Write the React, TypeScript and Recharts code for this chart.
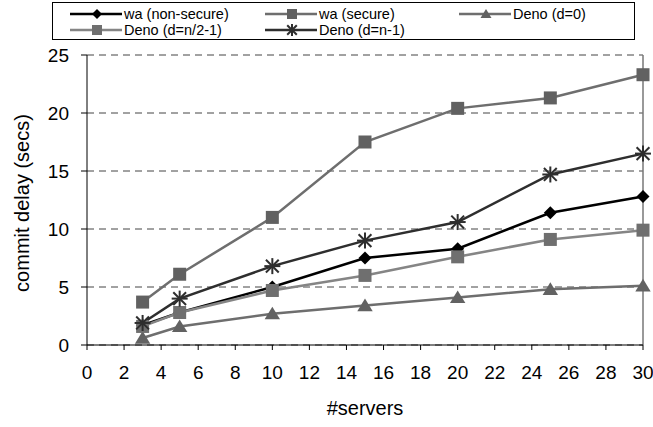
import React from 'react';
import { LineChart, Line, XAxis, YAxis, CartesianGrid, ReferenceLine } from 'recharts';

const servers = [3, 5, 10, 15, 20, 25, 30];
const waNonSecure = [1.7, 2.8, 5.0, 7.5, 8.3, 11.4, 12.8];
const waSecure = [3.7, 6.1, 11.0, 17.5, 20.4, 21.3, 23.3];
const denoD0 = [0.6, 1.6, 2.7, 3.4, 4.1, 4.8, 5.1];
const denoHalf = [1.6, 2.8, 4.7, 6.0, 7.6, 9.1, 9.9];
const denoFull = [1.9, 4.0, 6.8, 9.0, 10.6, 14.7, 16.5];

const xTicks = [0, 2, 4, 6, 8, 10, 12, 14, 16, 18, 20, 22, 24, 26, 28, 30];
const yTicks = [0, 5, 10, 15, 20, 25];

const data = servers.map((n, i) => ({
  n,
  waNonSecure: waNonSecure[i],
  waSecure: waSecure[i],
  denoD0: denoD0[i],
  denoHalf: denoHalf[i],
  denoFull: denoFull[i],
}));

const FONT = '"Liberation Sans", Arial, Helvetica, sans-serif';

type Shape = 'diamond' | 'square' | 'triangle' | 'star';

const series: { key: string; name: string; stroke: string; fill: string; shape: Shape }[] = [
  { key: 'waNonSecure', name: 'wa (non-secure)', stroke: '#000000', fill: '#000000', shape: 'diamond' },
  { key: 'waSecure', name: 'wa (secure)', stroke: '#6e6e6e', fill: '#616161', shape: 'square' },
  { key: 'denoD0', name: 'Deno (d=0)', stroke: '#6e6e6e', fill: '#626262', shape: 'triangle' },
  { key: 'denoHalf', name: 'Deno (d=n/2-1)', stroke: '#858585', fill: '#6f6f6f', shape: 'square' },
  { key: 'denoFull', name: 'Deno (d=n-1)', stroke: '#2e2e2e', fill: '#2e2e2e', shape: 'star' },
];

function marker(shape: Shape, cx: number, cy: number, fill: string, s: number) {
  if (shape === 'diamond') {
    return <polygon points={`${cx},${cy - s} ${cx + s},${cy} ${cx},${cy + s} ${cx - s},${cy}`} fill={fill} />;
  }
  if (shape === 'square') {
    return <rect x={cx - s} y={cy - s} width={2 * s} height={2 * s} fill={fill} />;
  }
  if (shape === 'triangle') {
    return <polygon points={`${cx},${cy - s} ${cx + s * 1.1},${cy + s * 0.8} ${cx - s * 1.1},${cy + s * 0.8}`} fill={fill} />;
  }
  const r = s;
  const d = r * 0.8;
  return (
    <g stroke={fill} strokeWidth={2}>
      <line x1={cx} y1={cy - r} x2={cx} y2={cy + r} />
      <line x1={cx - d} y1={cy - d} x2={cx + d} y2={cy + d} />
      <line x1={cx - d} y1={cy + d} x2={cx + d} y2={cy - d} />
      <line x1={cx - r} y1={cy} x2={cx + r} y2={cy} />
    </g>
  );
}

const legendSpots = [
  { left: 17, top: 3 },
  { left: 212, top: 3 },
  { left: 406, top: 3 },
  { left: 17, top: 19 },
  { left: 212, top: 19 },
];

function LegendBox() {
  return (
    <div
      style={{
        position: 'absolute',
        left: 52,
        top: 2,
        width: 583,
        height: 38,
        border: '1px solid #000',
        boxSizing: 'border-box',
        fontFamily: FONT,
        fontSize: 14.5,
        background: '#fff',
      }}
    >
      {series.map((s, i) => (
        <div
          key={s.key}
          style={{ position: 'absolute', left: legendSpots[i].left, top: legendSpots[i].top, display: 'flex', alignItems: 'center', height: 16 }}
        >
          <svg width={53} height={16} style={{ display: 'block' }}>
            <line x1={0} y1={8} x2={52} y2={8} stroke={s.stroke} strokeWidth={2.5} />
            {marker(s.shape, 27, 8, s.fill, s.shape === 'star' ? 6 : 5)}
          </svg>
          <span style={{ marginLeft: 1, color: '#000', whiteSpace: 'nowrap' }}>{s.name}</span>
        </div>
      ))}
    </div>
  );
}

export default function App() {
  return (
    <div style={{ position: 'absolute', left: 0, top: 0, width: 653, height: 427, background: '#fff' }}>
      <LineChart
        width={653}
        height={427}
        data={data}
        margin={{ top: 55, right: 10, left: 0, bottom: 0 }}
        style={{ fontFamily: FONT }}
      >
        <CartesianGrid vertical={false} stroke="#444" strokeDasharray="7 5" />
        <XAxis
          dataKey="n"
          type="number"
          domain={[0, 30]}
          ticks={xTicks}
          interval={0}
          height={82}
          tickSize={5}
          tickMargin={16}
          stroke="#000"
          tick={{ fill: '#000', fontSize: 19 }}
          label={() => (
            <text x={365} y={415} textAnchor="middle" fontSize={20} fill="#000" fontFamily={FONT}>
              #servers
            </text>
          )}
        />
        <YAxis
          type="number"
          domain={[0, 25]}
          ticks={yTicks}
          interval={0}
          width={87}
          tickSize={6}
          tickMargin={12}
          stroke="#000"
          tick={{ fill: '#000', fontSize: 19 }}
          label={() => (
            <text x={29} y={203} transform="rotate(-90 29 203)" textAnchor="middle" fontSize={20} fill="#000" fontFamily={FONT}>
              commit delay (secs)
            </text>
          )}
        />
        <ReferenceLine x={30} stroke="#777" strokeWidth={1.5} />
        {series.map((s) => (
          <Line
            key={s.key}
            dataKey={s.key}
            name={s.name}
            stroke={s.stroke}
            strokeWidth={2.5}
            isAnimationActive={false}
            dot={(p: any) => <g key={`${s.key}-${p.index}`}>{marker(s.shape, p.cx, p.cy, s.fill, s.shape === 'star' ? 8 : s.shape === 'triangle' ? 7 : 6.5)}</g>}
            activeDot={false}
          />
        ))}
      </LineChart>
      <LegendBox />
    </div>
  );
}
